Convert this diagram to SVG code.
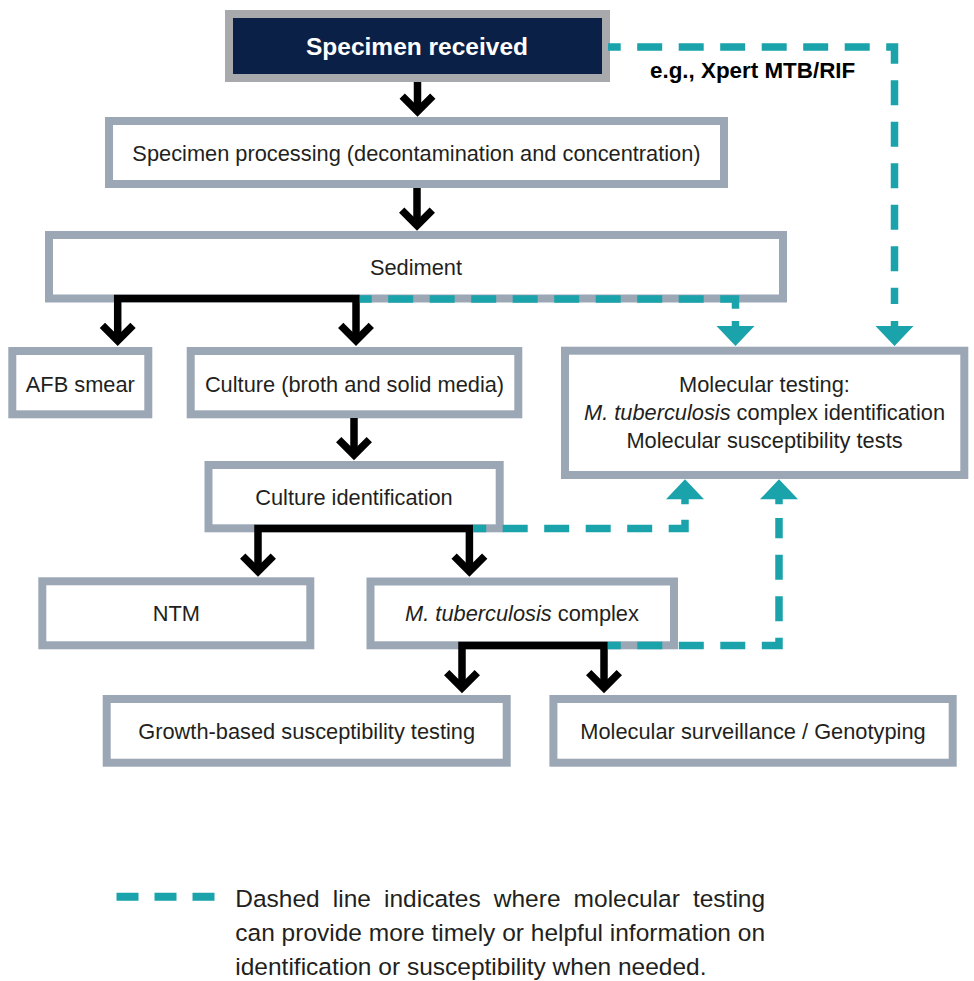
<svg xmlns="http://www.w3.org/2000/svg" xmlns:xlink="http://www.w3.org/1999/xlink" width="974" height="981" viewBox="0 0 974 981">
<style>
.box{fill:#fff;stroke:#9ca7b6;stroke-width:8}
.lbl{font-family:"Liberation Sans",Arial,sans-serif;font-size:21.8px;fill:#231f20;text-anchor:middle}
.blk{fill:none;stroke:#000;stroke-width:7.5;stroke-linejoin:miter;stroke-linecap:butt}
.dash{fill:none;stroke:#1aa3aa;stroke-width:7.5;stroke-dasharray:25 16.5;stroke-linejoin:miter}
.leg{font-family:"Liberation Sans",Arial,sans-serif;font-size:24.5px;fill:#231f20}
</style>
<defs>
<marker id="chev" markerUnits="userSpaceOnUse" orient="auto-start-reverse" refX="0" refY="0" markerWidth="40" markerHeight="40" overflow="visible">
<path d="M -15.3 -15.3 L 0 0 L -15.3 15.3" fill="none" stroke="#000" stroke-width="7.5" stroke-linejoin="miter"/>
</marker>
<path id="th" d="M -3.75 -25 H 3.75 V -20 H 19 L 0 0 L -19 -20 H -3.75 Z" fill="#1aa3aa"/>
</defs>
<rect width="974" height="981" fill="#fff"/>

<g id="specimen-received">
<rect x="229" y="14" width="377" height="64" fill="#0b2046" stroke="#a7a9ac" stroke-width="8"/>
<text x="417" y="55" font-family="Liberation Sans,Arial,sans-serif" font-size="24.5" font-weight="bold" fill="#fff" text-anchor="middle">Specimen received</text>
</g>
<g id="specimen-processing">
<rect class="box" x="109" y="121" width="615" height="63"/>
<text class="lbl" x="416.5" y="160.5">Specimen processing (decontamination and concentration)</text>
</g>
<g id="sediment">
<rect class="box" x="49" y="235" width="734" height="63.5"/>
<text class="lbl" x="416" y="275">Sediment</text>
</g>
<g id="afb-smear">
<rect class="box" x="12.3" y="351" width="136" height="63.3"/>
<text class="lbl" x="80.3" y="391.5">AFB smear</text>
</g>
<g id="culture">
<rect class="box" x="190.7" y="351" width="327.6" height="63.3"/>
<text class="lbl" x="354.5" y="391.5">Culture (broth and solid media)</text>
</g>
<g id="molecular-testing">
<rect class="box" x="565" y="350.7" width="399.3" height="124.3"/>
<text class="lbl" x="764.5" y="391.7">Molecular testing:</text>
<text class="lbl" x="764.5" y="420"><tspan font-style="italic">M. tuberculosis</tspan> complex identification</text>
<text class="lbl" x="764.5" y="448.3">Molecular susceptibility tests</text>
</g>
<g id="culture-identification">
<rect class="box" x="208.5" y="465" width="291.2" height="63.3"/>
<text class="lbl" x="354" y="504.5">Culture identification</text>
</g>
<g id="ntm">
<rect class="box" x="42.3" y="581.3" width="268" height="64"/>
<text class="lbl" x="176.3" y="621">NTM</text>
</g>
<g id="mtb-complex">
<rect class="box" x="370.5" y="581.5" width="303.5" height="63.8"/>
<text class="lbl" x="522" y="621"><tspan font-style="italic">M. tuberculosis</tspan> complex</text>
</g>
<g id="growth-based">
<rect class="box" x="106.7" y="699" width="400" height="63.7"/>
<text class="lbl" x="306.7" y="739.3">Growth-based susceptibility testing</text>
</g>
<g id="molecular-surveillance">
<rect class="box" x="553.4" y="699" width="399.3" height="63.7"/>
<text class="lbl" x="753" y="739.3">Molecular surveillance / Genotyping</text>
</g>

<g id="connectors">
<path class="blk" d="M 417.5 82 V 111.4" marker-end="url(#chev)"/>
<path class="blk" d="M 417 188 V 225.4" marker-end="url(#chev)"/>
<path class="blk" d="M 117.7 340.7 V 298.5 H 356 V 340.7" marker-start="url(#chev)" marker-end="url(#chev)"/>
<path class="blk" d="M 354 418 V 455" marker-end="url(#chev)"/>
<path class="blk" d="M 258 571.4 V 528.5 H 469.4 V 571.4" marker-start="url(#chev)" marker-end="url(#chev)"/>
<path class="blk" d="M 462 688 V 645.5 H 604 V 688" marker-start="url(#chev)" marker-end="url(#chev)"/>

<path class="dash" d="M 608 47 H 894.5 V 304" stroke-dashoffset="12.3"/>
<use xlink:href="#th" x="894.5" y="346"/>
<path class="dash" d="M 359.7 299 H 735.5 V 309.5" stroke-dashoffset="13"/>
<use xlink:href="#th" x="735.5" y="346"/>
<path class="dash" d="M 473.2 528.5 H 685 V 518" stroke-dashoffset="12"/>
<use xlink:href="#th" transform="translate(685 479.3) rotate(180)"/>
<path class="dash" d="M 607.8 645.5 H 779 V 518" stroke-dashoffset="12"/>
<use xlink:href="#th" transform="translate(779 479.3) rotate(180)"/>
<text x="650" y="78" font-family="Liberation Sans,Arial,sans-serif" font-size="22.4" font-weight="bold" fill="#000">e.g., Xpert MTB/RIF</text>
</g>

<g id="legend">
<path d="M 116.5 896.7 H 214.5" fill="none" stroke="#1aa3aa" stroke-width="8" stroke-dasharray="22 16"/>
<text class="leg" y="907"><tspan x="235.3">Dashed</tspan><tspan x="332.8">line</tspan><tspan x="384">indicates</tspan><tspan x="493.8">where</tspan><tspan x="573.6">molecular</tspan><tspan x="692.9">testing</tspan></text>
<text class="leg" x="235.3" y="941">can provide more timely or helpful information on</text>
<text class="leg" x="235.3" y="975">identification or susceptibility when needed.</text>
</g>
</svg>
